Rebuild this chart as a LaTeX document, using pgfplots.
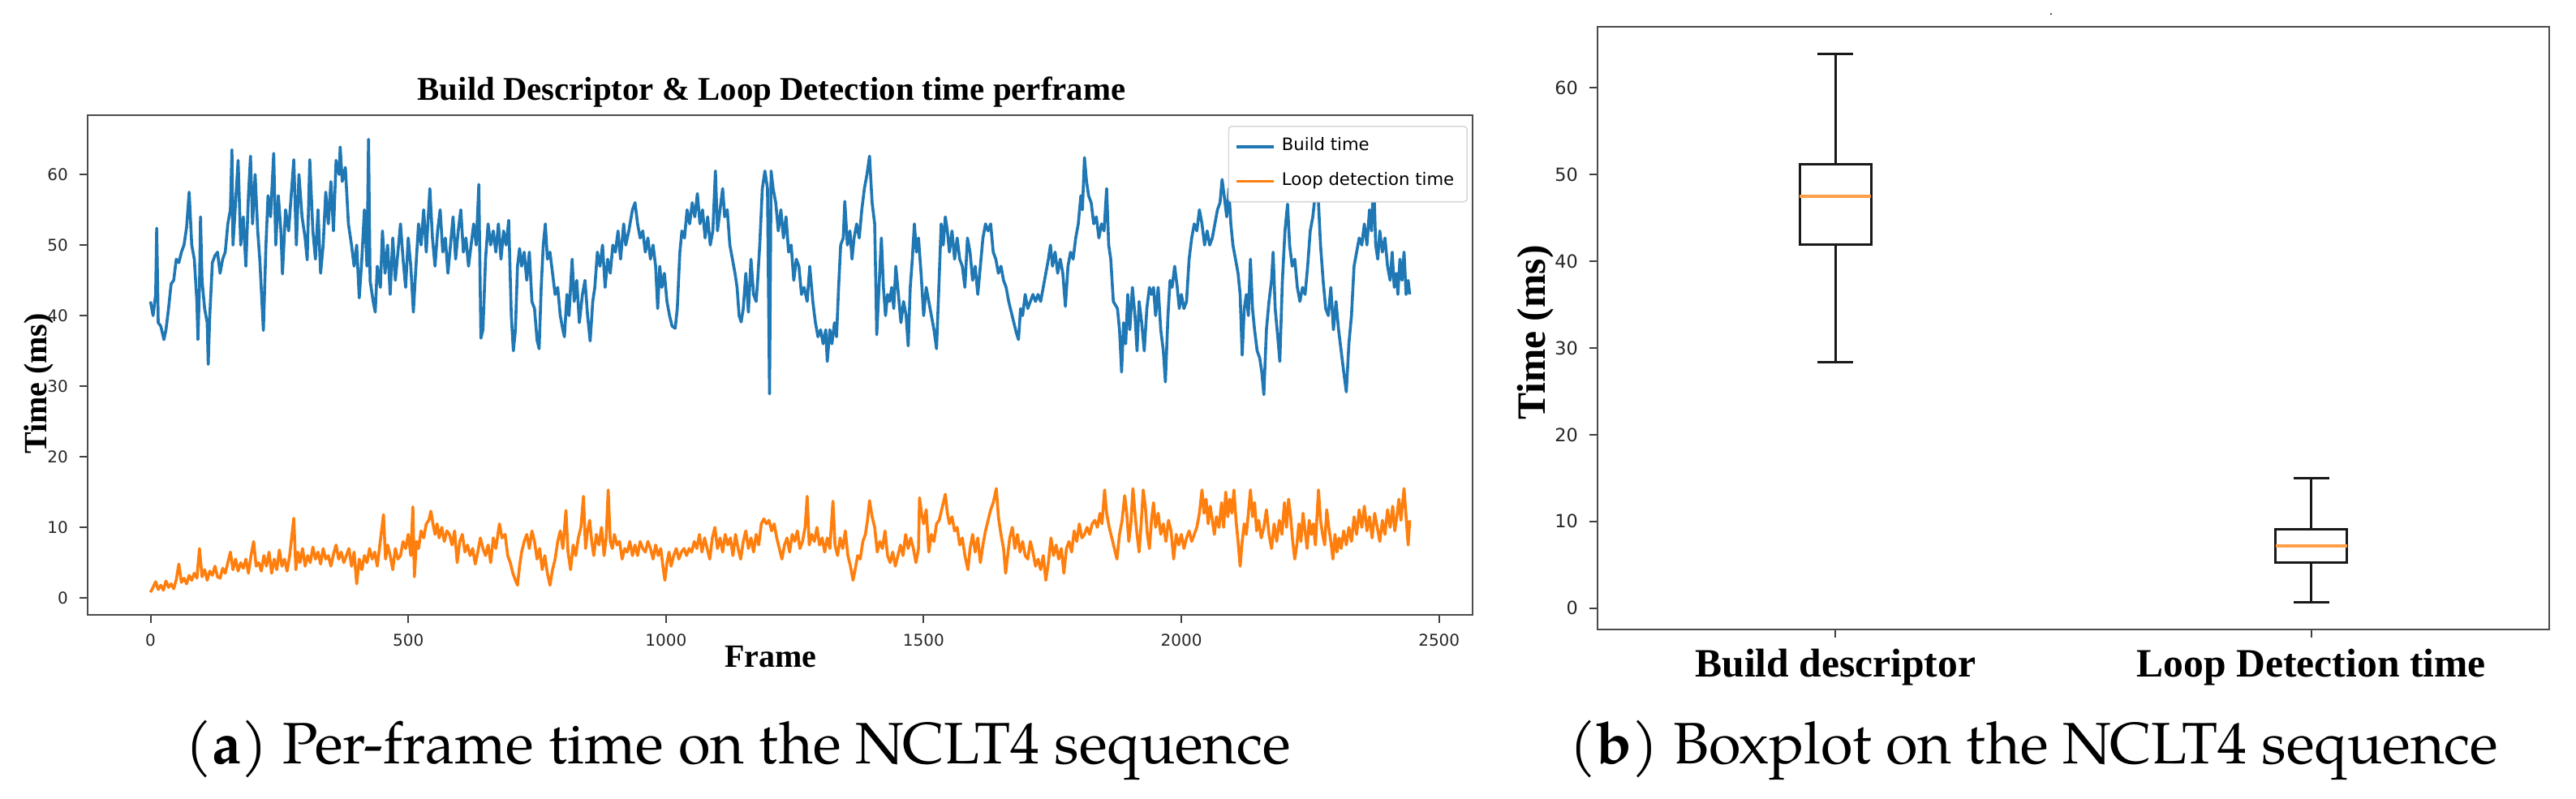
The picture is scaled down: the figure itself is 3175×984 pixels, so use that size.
\documentclass[border=0pt]{standalone}
\usepackage{pgfplots}
\pgfplotsset{compat=1.18}
\usepgfplotslibrary{statistics}
\usepackage{fontspec}
\setmainfont{Liberation Serif}
\newfontfamily\dejavu{DejaVu Sans}
\newfontfamily\pagella{TeX Gyre Pagella}
\definecolor{mplblue}{HTML}{1F77B4}
\definecolor{mplorange}{HTML}{FF7F0E}
\begin{document}
\begin{tikzpicture}[x=0.25pt,y=-0.25pt]
\useasboundingbox (0,0) rectangle (3175,984);
% ---------------- left panel ----------------
\begin{axis}[
  at={(27pt,-189.5pt)}, anchor=south west,
  width=426.75pt, height=154pt, scale only axis,
  xmin=-122, xmax=2565, ymin=-2.4, ymax=68.4,
  xtick={0,500,1000,1500,2000,2500}, ytick={0,10,20,30,40,50,60},
  scaled ticks=false,
  /pgf/number format/1000 sep={},
  /pgf/number format/assume math mode=true,
  ticklabel style={font=\dejavu\fontsize{5}{6}\selectfont, text=black!85},
  tick align=outside, xtick pos=bottom, ytick pos=left,
  major tick length=2.5pt,
  tick style={black!75, line width=0.5pt},
  axis line style={black!70, line width=0.6pt},
  legend style={at={(0.9965,0.979)}, anchor=north east,
     font=\dejavu\fontsize{5.3}{6.5}\selectfont, draw=black!15, rounded corners=1pt,
     inner xsep=2pt, inner ysep=1.5pt, row sep=1.2pt},
  legend cell align=left,
  legend image code/.code={\draw[#1, line width=0.9pt] (0pt,0pt) -- (11.5pt,0pt);},
]
\addplot[mplblue, line width=0.9pt, line join=round] coordinates {
(0,42)(5,40)(10,43)(12,52.4)(15,39)(20,38.5)(26,36.6)(30,38)(35,41)(40,44.5)(45,45)(50,48)(55,47.5)(60,49)(65,50)(70,52.5)(75,57.5)(80,50)(85,48)(90,42)(92,36.6)(95,44)(97,54)(100,45)(105,41)(110,39)(112,33.1)(115,40)(120,47.5)(125,48.5)(130,49)(135,46)(140,48)(145,49)(150,53)(155,55)(158,63.5)(160,50)(165,56)(170,62)(175,50)(180,54)(185,47)(190,57)(194,62.6)(198,53)(203,60)(208,52)(212,48)(219,37.9)(224,50)(228,57)(233,54)(239,63)(243,50)(248,57)(253,52)(256,45.9)(262,55)(268,52)(278,62.1)(283,50)(288,60)(294,54)(300,51)(304,47.9)(309,62.1)(315,52)(320,48)(325,55)(330,46)(335,50)(340,57.5)(345,53)(350,59)(355,52)(360,62)(366,60)(368,63.9)(372,59)(378,61)(384,53)(390,50)(395,47)(400,50)(405,42.5)(410,48)(415,55)(420,47)(423,65)(426,45)(432,42)(436,40.5)(440,47)(446,44)(450,52)(455,46)(460,50)(465,43)(470,51)(475,45)(480,49)(485,53)(490,48)(495,44)(500,51)(505,47)(510,40.5)(515,47)(520,53)(525,50)(530,55)(535,49)(542,58)(547,51)(552,47)(557,52)(562,55)(567,49)(572,51)(577,46)(582,50)(587,54)(592,48)(597,52)(602,55)(607,49)(612,51)(617,47)(622,50)(627,53)(632,50)(637,58.6)(641,36.8)(645,38)(650,48)(655,53)(660,50)(665,52)(670,49)(675,53)(680,48)(685,52)(690,50)(695,53.5)(700,40)(704,35)(708,38)(712,47)(716,49.5)(720,47)(725,49)(730,45)(735,49)(740,42)(745,41)(750,36.5)(754,35.3)(758,44)(762,50)(766,53)(770,48)(775,49)(780,46)(785,43)(790,44)(795,40)(800,38)(803,37)(808,43)(812,40)(818,48)(822,42)(827,45)(832,39)(838,43)(843,45)(848,40)(853,36.4)(858,42)(862,44)(867,49)(872,47)(877,50)(882,44)(887,48)(892,46)(897,50)(902,49)(907,52)(912,48)(918,53)(922,50)(928,52)(935,55)(940,56)(945,53)(950,51)(955,52)(960,49)(965,51)(970,48)(975,50)(980,47)(984,41)(988,47)(992,44)(997,46)(1002,42)(1007,40)(1012,38.5)(1018,38.2)(1022,41)(1027,49)(1031,52)(1036,51)(1041,55)(1046,53)(1051,56)(1056,54)(1061,57.3)(1066,53)(1071,55)(1076,51)(1081,54)(1086,50)(1091,52)(1096,60.5)(1100,52)(1105,55)(1110,58)(1114,54)(1119,55)(1124,50)(1129,48)(1134,46)(1138,44)(1142,40)(1146,39.1)(1150,41)(1155,46)(1160,40.5)(1165,48)(1170,43)(1175,42)(1178,45)(1182,50)(1187,58)(1192,60.5)(1197,58)(1201,28.9)(1204,60.5)(1208,58)(1213,56)(1218,52)(1223,55)(1228,51)(1233,54)(1238,49)(1243,50)(1248,45)(1253,48)(1258,47)(1263,43)(1268,44)(1274,42)(1279,47)(1285,42)(1290,39)(1295,37)(1300,38)(1305,36)(1310,38)(1313,33.5)(1318,38)(1322,36)(1327,39)(1331,37)(1335,44)(1339,50)(1344,51)(1347,56.2)(1352,50)(1357,52)(1361,48)(1365,51)(1370,53)(1375,51)(1380,55)(1385,58)(1390,60)(1395,62.6)(1400,56)(1405,53)(1409,37.3)(1414,45)(1418,51)(1422,44)(1426,40)(1430,43)(1434,42)(1438,44)(1442,41)(1446,47)(1451,43)(1456,39)(1461,42)(1466,40)(1470,35.7)(1474,44)(1478,48)(1482,53)(1486,49)(1490,51)(1495,46)(1500,40)(1505,44)(1510,42)(1515,40)(1520,38)(1525,35.3)(1530,45)(1534,53)(1538,50)(1542,54)(1546,52)(1550,49)(1555,52)(1560,48)(1565,51)(1570,48)(1575,47)(1580,44)(1585,51)(1590,49)(1595,45)(1600,47)(1605,43)(1610,47)(1615,51)(1620,53)(1625,52)(1630,53)(1635,49)(1640,48)(1645,46)(1650,47)(1655,45)(1660,44)(1665,42)(1670,40.5)(1675,39)(1680,37.5)(1684,36.6)(1688,41)(1692,40)(1697,43)(1702,41)(1707,42)(1712,43)(1717,42)(1722,43)(1727,42)(1732,44)(1737,46)(1742,48)(1746,50)(1750,47)(1755,49)(1760,46)(1765,48)(1770,46)(1775,41.3)(1780,47)(1785,49)(1790,48)(1795,51)(1800,53)(1805,57)(1808,55)(1812,62.4)(1816,59)(1820,57)(1825,56)(1830,53)(1835,54)(1840,51)(1845,53)(1850,52)(1855,58)(1859,50)(1863,48)(1868,42)(1872,41.5)(1876,41)(1880,38)(1884,32)(1888,39)(1892,36)(1896,43)(1900,38)(1905,44)(1910,40)(1914,35)(1918,42)(1923,39)(1928,35)(1933,41)(1938,44)(1942,43)(1946,44)(1950,40)(1955,44)(1960,38)(1965,35)(1969,30.6)(1974,40)(1978,45)(1982,44)(1987,47)(1992,44)(1996,41)(2000,43)(2005,41)(2010,42)(2015,48)(2020,51)(2025,53)(2030,52)(2035,55)(2040,53)(2045,50)(2050,52)(2055,50)(2060,51)(2065,53)(2070,55)(2075,56)(2079,59.3)(2083,57)(2088,54)(2092,58)(2096,53)(2100,50)(2105,48)(2110,46)(2114,43)(2118,34.4)(2122,41)(2126,43)(2130,40)(2134,48)(2138,41)(2142,38)(2147,35)(2152,34)(2156,32)(2160,28.8)(2165,38)(2170,42)(2175,45)(2178,49)(2182,41)(2187,37)(2191,33.5)(2196,45)(2201,52)(2206,55.8)(2210,50)(2215,47)(2220,48)(2225,44)(2230,42)(2235,44)(2240,43)(2245,47)(2250,52)(2255,54)(2262,58.8)(2266,56)(2270,50)(2275,45)(2280,41)(2285,40)(2290,44)(2295,38)(2300,42)(2305,38)(2310,35)(2315,32)(2320,29.2)(2325,36)(2330,40)(2335,47)(2340,49)(2345,51)(2350,50)(2355,53)(2360,50)(2365,55)(2369,52)(2373,59.6)(2377,50)(2381,48)(2385,52)(2390,49)(2395,51)(2400,47)(2405,45)(2409,49)(2413,44)(2417,46)(2420,43)(2424,48)(2428,45)(2432,49)(2436,43)(2440,45)(2443,43)
};
\addlegendentry{Build time}
\addplot[mplorange, line width=0.9pt, line join=round] coordinates {
(0,0.8)(5,1.5)(10,2.3)(15,1.2)(20,1.8)(25,1.1)(30,2.4)(35,1.5)(40,2.0)(45,1.3)(50,2.6)(55,4.8)(60,2.2)(65,2.8)(70,2.0)(75,3.2)(80,2.5)(85,3.5)(90,2.8)(95,7.0)(100,3.0)(105,4.0)(110,2.5)(115,3.8)(120,3.2)(125,4.5)(130,3.0)(135,2.8)(140,4.2)(145,3.5)(150,5.0)(155,6.5)(160,4.0)(165,5.5)(170,3.8)(175,5.0)(180,4.2)(185,5.5)(190,3.5)(195,6.0)(200,8.0)(205,4.5)(210,5.0)(215,3.8)(220,6.0)(225,4.5)(230,6.5)(235,3.5)(240,5.5)(245,4.0)(250,6.8)(255,4.5)(260,5.5)(265,3.8)(270,6.0)(278,11.3)(282,4.0)(286,6.5)(290,5.0)(295,7.0)(300,4.5)(305,6.0)(310,5.0)(315,7.2)(320,5.5)(325,6.5)(330,4.8)(335,7.0)(340,5.5)(345,6.0)(350,4.5)(355,6.2)(360,7.5)(365,5.5)(370,6.5)(375,5.0)(380,6.0)(385,7.0)(390,4.5)(395,6.5)(400,2.0)(405,5.5)(410,4.0)(415,6.0)(420,5.0)(425,7.0)(430,5.5)(435,6.5)(440,4.5)(452,11.8)(456,5.5)(460,7.5)(465,6.0)(470,4.0)(475,7.0)(480,5.5)(485,6.0)(490,8.0)(495,7.0)(500,9.0)(505,6.0)(509,12.9)(512,3.0)(516,8.0)(520,7.0)(525,9.5)(530,8.5)(535,10.5)(540,11.0)(544,12.3)(548,10.5)(552,9.0)(556,10.5)(560,8.5)(565,10.0)(570,8.0)(575,9.5)(580,9.0)(585,7.5)(590,9.5)(595,5.0)(600,8.0)(605,9.0)(610,6.5)(615,7.5)(620,6.0)(625,7.0)(630,4.8)(635,6.5)(640,8.5)(645,7.0)(650,6.0)(655,7.5)(660,5.0)(665,8.5)(670,7.0)(677,10.5)(682,8.5)(688,9.0)(693,6.0)(698,5.0)(703,3.5)(708,2.5)(712,1.8)(716,4.5)(720,6.5)(725,8.0)(730,9.0)(735,7.0)(740,9.5)(745,8.0)(750,5.5)(755,7.0)(760,4.0)(765,6.0)(770,3.5)(775,1.8)(780,4.0)(785,5.5)(790,8.0)(795,9.5)(800,7.0)(806,12.4)(810,6.5)(815,4.0)(820,7.5)(825,6.0)(830,8.5)(835,10.0)(840,14.4)(844,7.0)(848,9.5)(852,11.0)(856,8.0)(860,6.0)(865,9.0)(870,7.5)(875,10.0)(880,6.0)(884,8.5)(888,15.3)(892,8.0)(896,7.0)(900,9.0)(905,7.5)(910,8.0)(915,5.5)(920,7.0)(925,6.5)(930,8.0)(935,6.0)(940,7.5)(945,6.0)(950,8.0)(955,7.0)(960,6.5)(965,8.0)(970,7.0)(975,5.5)(980,7.5)(985,6.0)(990,7.0)(995,4.0)(998,2.5)(1002,5.0)(1006,6.5)(1010,4.5)(1015,6.0)(1020,7.0)(1025,5.5)(1030,6.5)(1035,7.0)(1040,6.0)(1045,7.0)(1050,6.5)(1055,8.0)(1060,7.0)(1065,9.0)(1070,6.5)(1075,8.5)(1080,7.0)(1085,5.5)(1090,8.5)(1095,10.0)(1100,7.0)(1105,8.5)(1110,6.5)(1115,9.0)(1120,7.5)(1125,8.5)(1130,6.0)(1135,9.0)(1140,7.0)(1145,5.5)(1150,8.0)(1155,9.5)(1160,7.0)(1165,8.5)(1170,6.5)(1175,9.0)(1180,7.5)(1185,10.5)(1190,11.2)(1195,10.5)(1200,11.0)(1205,9.5)(1210,10.5)(1215,8.5)(1220,7.0)(1225,5.5)(1230,7.5)(1235,8.5)(1240,6.5)(1245,9.0)(1250,8.0)(1255,9.5)(1260,7.0)(1265,8.0)(1270,10.0)(1274,14.4)(1278,7.5)(1283,9.0)(1288,8.0)(1293,10.0)(1298,7.5)(1303,8.5)(1308,6.5)(1313,8.5)(1318,7.0)(1324,13.7)(1328,7.5)(1333,6.0)(1338,8.5)(1343,7.0)(1348,9.5)(1353,6.0)(1358,4.5)(1363,2.5)(1367,4.0)(1372,6.0)(1377,5.5)(1382,8.0)(1387,9.0)(1391,11.0)(1395,13.8)(1400,11.5)(1405,10.0)(1410,6.5)(1415,8.0)(1420,7.0)(1425,9.5)(1430,6.0)(1435,5.0)(1440,6.5)(1445,4.5)(1450,6.0)(1455,7.5)(1460,6.0)(1465,9.0)(1470,7.0)(1475,8.5)(1480,7.0)(1485,5.0)(1490,7.0)(1492,14.2)(1496,12.0)(1500,10.5)(1505,12.5)(1510,6.5)(1515,9.0)(1520,8.0)(1525,10.5)(1530,11.0)(1535,12.5)(1542,14.7)(1546,12.0)(1550,10.5)(1555,11.5)(1560,9.5)(1565,10.0)(1570,7.5)(1575,8.5)(1580,6.0)(1586,4.0)(1590,7.0)(1595,9.0)(1600,6.5)(1605,8.5)(1610,5.0)(1615,7.5)(1620,9.5)(1625,11.0)(1630,12.5)(1635,13.5)(1641,15.5)(1645,11.5)(1650,9.0)(1655,7.0)(1659,3.5)(1663,6.0)(1667,8.5)(1672,10.0)(1677,7.0)(1682,9.0)(1687,6.5)(1692,8.0)(1697,6.0)(1702,5.5)(1707,8.0)(1712,6.5)(1717,4.5)(1722,5.5)(1727,4.0)(1732,6.0)(1737,2.5)(1742,5.0)(1747,8.5)(1752,6.0)(1757,7.5)(1762,5.5)(1767,7.0)(1772,3.5)(1777,7.0)(1782,8.0)(1787,6.5)(1792,9.5)(1797,8.0)(1802,10.5)(1807,8.5)(1812,9.0)(1817,10.0)(1822,9.0)(1827,10.5)(1832,11.0)(1837,10.0)(1842,12.0)(1846,10.5)(1851,15.3)(1855,12.0)(1860,10.0)(1865,8.5)(1870,7.0)(1875,5.5)(1880,9.0)(1885,11.0)(1890,14.5)(1894,12.0)(1898,8.0)(1902,10.5)(1906,15.5)(1910,12.0)(1914,9.0)(1918,6.5)(1922,10.5)(1926,15.3)(1930,13.0)(1934,9.0)(1938,7.0)(1942,11.0)(1946,13.5)(1950,10.0)(1955,12.0)(1960,9.0)(1965,10.5)(1970,8.0)(1975,11.0)(1980,9.5)(1985,5.5)(1990,9.0)(1995,7.5)(2000,9.0)(2005,7.0)(2010,8.5)(2015,9.5)(2020,8.0)(2025,9.0)(2030,10.0)(2035,12.0)(2040,15.3)(2044,12.0)(2048,14.0)(2052,10.5)(2056,13.0)(2060,11.0)(2064,9.0)(2068,11.5)(2073,10.0)(2078,13.5)(2082,10.0)(2086,15.0)(2090,11.5)(2094,14.0)(2098,12.0)(2102,15.3)(2106,11.0)(2110,8.0)(2114,4.5)(2118,8.0)(2122,10.5)(2126,9.0)(2130,12.0)(2134,15.3)(2138,11.5)(2142,13.5)(2146,9.5)(2150,11.0)(2155,8.5)(2160,10.0)(2165,12.5)(2170,9.0)(2175,7.0)(2180,10.5)(2185,8.0)(2190,11.0)(2195,9.0)(2200,13.5)(2204,10.0)(2208,14.0)(2212,11.5)(2216,8.0)(2220,5.5)(2224,7.5)(2228,10.5)(2232,8.0)(2236,12.0)(2240,9.5)(2244,7.0)(2248,11.0)(2252,9.0)(2256,10.5)(2260,7.5)(2266,15.3)(2270,11.0)(2274,9.0)(2278,7.5)(2282,12.5)(2286,10.0)(2290,8.0)(2294,5.5)(2298,9.0)(2302,6.5)(2306,8.5)(2310,7.0)(2315,9.5)(2320,7.5)(2325,10.0)(2330,8.0)(2335,11.5)(2340,9.0)(2345,12.5)(2350,10.0)(2355,13.0)(2360,9.5)(2365,11.5)(2370,8.5)(2375,12.0)(2380,10.0)(2385,8.0)(2390,11.0)(2395,9.0)(2400,12.5)(2405,10.0)(2410,13.0)(2414,9.5)(2418,11.5)(2422,14.0)(2426,11.0)(2432,15.5)(2436,11.5)(2440,7.5)(2443,11.0)
};
\addlegendentry{Loop detection time}
\end{axis}
% ---------------- right panel ----------------
\begin{axis}[
  at={(492.25pt,-194pt)}, anchor=south west,
  width=293.25pt, height=185.75pt, scale only axis,
  xmin=0.5, xmax=2.5, ymin=-2.46, ymax=67.06,
  boxplot/draw direction=y,
  xtick={1,2}, xticklabels={Build descriptor, Loop Detection time},
  ytick={0,10,20,30,40,50,60},
  /pgf/number format/assume math mode=true,
  yticklabel style={font=\dejavu\fontsize{5.6}{6.5}\selectfont, text=black!85},
  xticklabel style={font=\bfseries\fontsize{12.4}{14}\selectfont},
  tick align=outside, xtick pos=bottom, ytick pos=left,
  major tick length=2.5pt,
  tick style={black!75, line width=0.5pt},
  axis line style={black!70, line width=0.6pt},
]
\addplot[black!90, line width=0.75pt, solid,
  boxplot prepared={draw position=1, lower whisker=28.4, lower quartile=41.95,
    median=47.5, upper quartile=51.2, upper whisker=63.9,
    box extend=0.15, whisker extend=0.075,
    every median/.style={draw=mplorange!75, line width=1pt}}]
  coordinates {};
\addplot[black!90, line width=0.75pt, solid,
  boxplot prepared={draw position=2, lower whisker=0.65, lower quartile=5.3,
    median=7.2, upper quartile=9.05, upper whisker=15.0,
    box extend=0.15, whisker extend=0.075,
    every median/.style={draw=mplorange!75, line width=1pt}}]
  coordinates {};
\end{axis}
% ---------------- labels ----------------
\node[anchor=base] at (951,123) {\bfseries\fontsize{10.2}{12}\selectfont Build Descriptor \& Loop Detection time perframe};
\node[rotate=90] at (48,473) {\bfseries\fontsize{10}{12}\selectfont Time (ms)};
\node[anchor=base] at (950,822) {\bfseries\fontsize{10}{12}\selectfont Frame};
\node[rotate=90] at (1893,410) {\bfseries\fontsize{12.4}{14}\selectfont Time (ms)};
\node[inner sep=0pt] at (2528,18) {\fontsize{4}{4}\selectfont .};
\node[anchor=base] at (910,941) {\pagella\fontsize{18}{21}\selectfont (\textbf{a}) Per-frame time on the NCLT4 sequence};
\node[anchor=base] at (2507,941) {\pagella\fontsize{18}{21}\selectfont (\textbf{b}) Boxplot on the NCLT4 sequence};
\end{tikzpicture}
\end{document}
